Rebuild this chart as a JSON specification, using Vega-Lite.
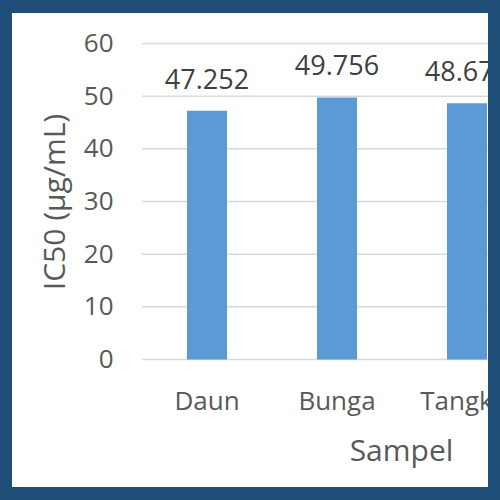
{
  "$schema": "https://vega.github.io/schema/vega-lite/v6.json",
  "width": 476,
  "height": 474,
  "autosize": "none",
  "padding": {"left": 12, "top": 13, "right": 12, "bottom": 13},
  "background": "#1F4E79",
  "config": {
    "view": {"fill": "#FFFFFF", "stroke": null},
    "font": "Open Sans"
  },
  "datasets": {
    "bars": [
      {"Sampel": "Daun", "IC50": 47.252},
      {"Sampel": "Bunga", "IC50": 49.756},
      {"Sampel": "Tangkai", "IC50": 48.674}
    ],
    "grid": [
      {"v": 0}, {"v": 10}, {"v": 20}, {"v": 30}, {"v": 40}, {"v": 50}, {"v": 60}
    ]
  },
  "layer": [
    {
      "data": {"name": "grid"},
      "mark": {"type": "rule", "color": "#D9D9D9", "strokeWidth": 1.5, "clip": true},
      "encoding": {
        "y": {"field": "v", "type": "quantitative"},
        "x": {"datum": "Daun", "bandPosition": 0},
        "x2": {"datum": "Tangkai", "bandPosition": 1}
      }
    },
    {
      "data": {"name": "bars"},
      "mark": {"type": "bar", "color": "#5B9BD5", "width": 40, "clip": true},
      "encoding": {
        "x": {
          "field": "Sampel", "type": "nominal", "sort": null,
          "scale": {"domain": ["Daun", "Bunga", "Tangkai"], "range": [130, 520], "paddingInner": 0, "paddingOuter": 0},
          "axis": {
            "labels": false, "ticks": false, "domain": false, "grid": false,
            "offset": -127.5,
            "title": "Sampel", "titleFont": "Open Sans", "titleFontSize": 30, "titleFontWeight": "normal",
            "titleColor": "#595959", "titleX": 389, "titleY": 100.5, "titleBaseline": "alphabetic", "titleAlign": "center"
          }
        },
        "y": {
          "field": "IC50", "type": "quantitative",
          "scale": {"domain": [0, 60], "range": [346.5, 30.5], "nice": false, "zero": true},
          "axis": {
            "values": [0, 10, 20, 30, 40, 50, 60],
            "grid": false, "ticks": false, "domain": false,
            "offset": -131.5, "labelPadding": 30.5,
            "labelFont": "Open Sans", "labelFontSize": 26, "labelColor": "#595959",
            "title": "IC50 (µg/mL)", "titleFont": "Open Sans", "titleFontSize": 30, "titleFontWeight": "normal",
            "titleColor": "#595959", "titlePadding": 13
          }
        }
      }
    },
    {
      "data": {"name": "bars"},
      "mark": {"type": "text", "fontSize": 27, "color": "#404040", "baseline": "alphabetic", "dy": -22, "clip": true},
      "encoding": {
        "x": {"field": "Sampel", "type": "nominal", "sort": null},
        "y": {"field": "IC50", "type": "quantitative"},
        "text": {"field": "IC50", "type": "quantitative", "format": ".3f"}
      }
    },
    {
      "data": {"name": "bars"},
      "mark": {"type": "text", "fontSize": 26, "color": "#595959", "baseline": "alphabetic", "clip": true},
      "encoding": {
        "x": {"field": "Sampel", "type": "nominal", "sort": null},
        "y": {"datum": -9.6, "type": "quantitative"},
        "text": {"field": "Sampel", "type": "nominal"}
      }
    }
  ]
}
